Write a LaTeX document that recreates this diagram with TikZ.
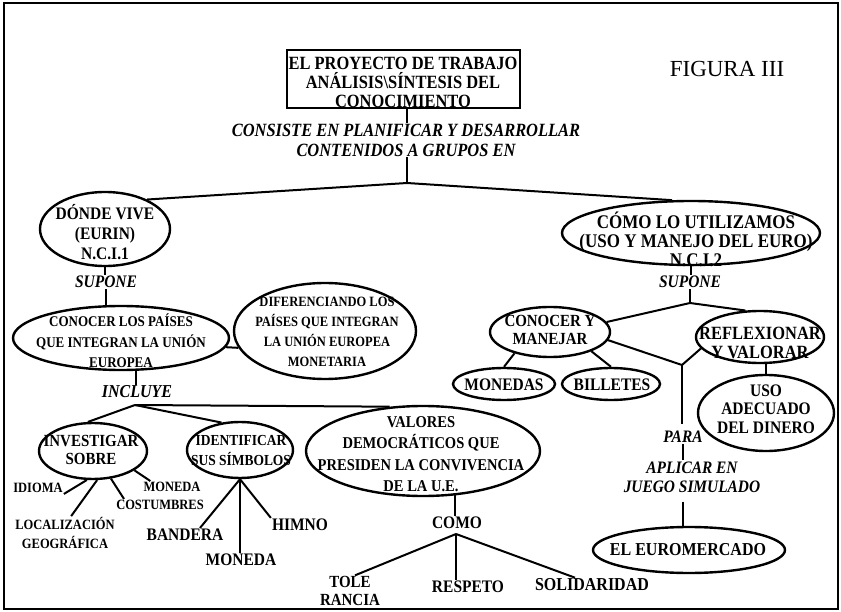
\documentclass[tikz,border=0pt]{standalone}
\usepackage{fontspec}
\setmainfont{Liberation Serif}[FakeStretch=0.88]
\newfontfamily\figfont{Liberation Serif}
\usetikzlibrary{shapes.geometric}
\newcommand{\fsz}[2]{\fontsize{#1}{#2}\selectfont}
\begin{document}
\begin{tikzpicture}[x=1pt,y=-1pt,
  ell/.style={draw, ellipse, line width=2.4pt, inner sep=0pt},
  txt/.style={align=center, inner sep=1pt},
  lnk/.style={line width=2pt},
  bt/.style={txt, font=\bfseries\fsz{#1}{18}},
  bi/.style={txt, font=\bfseries\itshape\fsz{#1}{18}}]
\useasboundingbox (0,0) rectangle (841,612);
\draw[line width=1.6pt] (4,3) rectangle (838,609);

% title
\node[draw, line width=2.2pt, minimum width=233pt, minimum height=58pt, inner sep=0pt] (tb) at (403.5,79) {};
\node[txt, font=\bfseries\fsz{18.7}{19}] (tt) at (403,82) {EL PROYECTO DE TRABAJO\\AN\'ALISIS\textbackslash S\'INTESIS DEL\\CONOCIMIENTO};
\node[inner sep=0pt, font=\figfont\fsz{23}{26}] (fig) at (727,69) {FIGURA III};
\node[txt, font=\bfseries\itshape\fsz{18.7}{20}] (cons) at (406,140) {CONSISTE EN PLANIFICAR Y DESARROLLAR\\CONTENIDOS A GRUPOS EN};
\coordinate (jT) at (407,183);
\draw[lnk] (jT |- tb.south) -- (jT |- cons.north);
\draw[lnk] (jT |- cons.south) -- (jT);

% left branch
\node[ell, minimum width=130pt, minimum height=74pt] (dv) at (105,229) {};
\node[txt, font=\bfseries\fsz{17.6}{20}] (dvt) at (105,232) {D\'ONDE VIVE\\(EURIN)\\N.C.I.1};
\node[bi=17.6] (supL) at (106,282) {SUPONE};
\draw[lnk] (dv.south) -- (dv.south |- supL.north);
\node[ell, minimum width=216pt, minimum height=64pt] (cp) at (121,338) {};
\node[txt, font=\bfseries\fsz{14.8}{20.5}] (cpt) at (121,341) {CONOCER LOS PA\'ISES\\QUE INTEGRAN LA UNI\'ON\\EUROPEA};
\draw[lnk] (supL.south) -- (supL.south |- cp.north);
\node[ell, minimum width=182pt, minimum height=96pt] (df) at (325,331) {};
\node[txt, font=\bfseries\fsz{14.2}{20}] (dft) at (327,332) {DIFERENCIANDO LOS\\PA\'ISES QUE INTEGRAN\\LA UNI\'ON EUROPEA\\MONETARIA};
\draw[lnk] (cp.-5) -- (df.191);
\node[bi=18.2] (inc) at (137,392) {INCLUYE};
\draw[lnk] (cp.-66) -- (cp.-66 |- inc.north);
\coordinate (jI) at (135,405);

\node[ell, minimum width=108pt, minimum height=56pt] (inv) at (93,451) {};
\node[txt, font=\bfseries\fsz{17}{18.5}] (invt) at (91,450) {INVESTIGAR\\SOBRE};
\node[ell, minimum width=106pt, minimum height=56pt] (ide) at (240,450) {};
\node[txt, font=\bfseries\fsz{15.3}{20}] (idet) at (241,451) {IDENTIFICAR\\SUS S\'IMBOLOS};
\node[ell, minimum width=234pt, minimum height=90pt] (val) at (423,451) {};
\node[txt, font=\bfseries\fsz{16.5}{21.5}] (valt) at (421,454) {VALORES\\DEMOCR\'ATICOS QUE\\PRESIDEN LA CONVIVENCIA\\DE LA U.E.};
\draw[lnk] (jI) -- (inv.100);
\draw[lnk] (jI) -- (ide.124);
\draw[lnk] (jI) -- (val.127);

\node[bt=14.2] (idi) at (38,488) {IDIOMA};
\node[txt, font=\bfseries\fsz{14.2}{19}] (loc) at (65,533) {LOCALIZACI\'ON\\GEOGR\'AFICA};
\node[bt=14.2] (cos) at (160,505) {COSTUMBRES};
\node[bt=14.2] (mo1) at (172,487) {MONEDA};
\draw[lnk] (inv.-102) -- (idi.south east);
\draw[lnk] (inv.-82) -- (loc.70);
\draw[lnk] (inv.-57) -- ([xshift=9pt]cos.north west);
\draw[lnk] (inv.-25) -- ([xshift=8pt]mo1.north west);

\node[bt=17.6] (ban) at (185,535) {BANDERA};
\node[bt=17.6] (mo2) at (241,560) {MONEDA};
\node[bt=17.6] (him) at (300,525) {HIMNO};
\draw[lnk] (ide.south) -- ([xshift=15pt]ban.north);
\draw[lnk] (ide.south) -- (ide.south |- mo2.north);
\draw[lnk] (ide.south) -- (him.north west);

\node[bt=17.6] (como) at (457,523) {COMO};
\draw[lnk] (val.-54) -- (val.-54 |- como.north);
\coordinate (jC) at (456,534);
\node[txt, font=\bfseries\fsz{17}{17.5}] (tol) at (350,591) {TOLE\\RANCIA};
\node[bt=17.6] (res) at (468,587) {RESPETO};
\node[bt=18.2] (sol) at (592,585) {SOLIDARIDAD};
\draw[lnk] (jC) -- ([xshift=5pt]tol.north);
\draw[lnk] (jC) -- (jC |- res.north);
\draw[lnk] (jC) -- ([xshift=-17pt]sol.north);

% right branch
\node[ell, minimum width=258pt, minimum height=64pt] (cm) at (691,233) {};
\node[txt, font=\bfseries\fsz{19.3}{19}] (cmt) at (696,239) {C\'OMO LO UTILIZAMOS\\(USO Y MANEJO DEL EURO)\\N.C.I.2};
\draw[lnk] (dv.35) -- (jT) -- (cm.120);
\node[bi=17.6] (supR) at (690,282) {SUPONE};
\draw[lnk] (cm.south) -- (cm.south |- supR.north);
\coordinate (jR) at (690,303);
\draw[lnk] (supR.south) -- (jR);
\node[ell, minimum width=120pt, minimum height=50pt] (cym) at (550,332) {};
\node[txt, font=\bfseries\fsz{17}{18}] (cymt) at (550,330) {CONOCER Y\\MANEJAR};
\node[ell, minimum width=128pt, minimum height=52pt] (ref) at (760,337) {};
\node[txt, font=\bfseries\fsz{18.7}{19}] (reft) at (760,343) {REFLEXIONAR\\Y VALORAR};
\draw[lnk] (cym.10) -- (jR) -- (ref.119);
\node[ell, minimum width=102pt, minimum height=32pt] (mon) at (504,384) {};
\node[bt=17.6] (mont) at (504,385) {MONEDAS};
\node[ell, minimum width=98pt, minimum height=32pt] (bil) at (611,384) {};
\node[bt=17.6] (bilt) at (612,385) {BILLETES};
\draw[lnk] (cym.-149) -- (mon.north);
\draw[lnk] (cym.-25) -- (bil.north);
\coordinate (jP) at (682,365);
\draw[lnk] (cym.-8) -- (jP) -- (ref.-169);
\node[bi=17.5] (para) at (683,437) {PARA};
\draw[lnk, shorten >=6pt] (jP) -- (jP |- para.north);
\node[txt, font=\bfseries\itshape\fsz{17.5}{19}] (apl) at (692,477) {APLICAR EN\\JUEGO SIMULADO};
\draw[lnk] (para.south) -- (para.south |- apl.north);
\node[ell, minimum width=192pt, minimum height=46pt] (eur) at (689,550) {};
\node[bt=18.2] (eurt) at (688,550) {EL EUROMERCADO};
\draw[lnk, shorten <=8pt] (para.south |- apl.south) -- (para.south |- eur.north);
\node[ell, minimum width=136pt, minimum height=76pt] (uso) at (766,413) {};
\node[txt, font=\bfseries\fsz{17.6}{18.5}] (usot) at (766,409) {USO\\ADECUADO\\DEL DINERO};
\draw[lnk] (uso.north |- ref.south) -- (uso.north);
\end{tikzpicture}
\end{document}
